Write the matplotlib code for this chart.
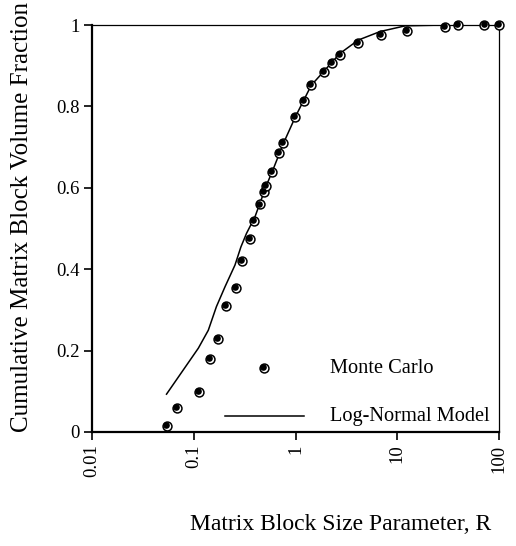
import matplotlib
matplotlib.use("Agg")
import matplotlib.pyplot as plt
import matplotlib.transforms as mtransforms

plt.rcParams['font.family'] = ['Liberation Serif', 'DejaVu Serif']

# Monte Carlo data
mc_r = [0.054, 0.068, 0.113, 0.144, 0.172, 0.207, 0.26, 0.298, 0.357, 0.388, 0.451,
        0.494, 0.518, 0.59, 0.684, 0.748, 0.995, 1.205, 1.43, 1.92, 2.28, 2.74,
        4.14, 6.92, 12.6, 29.5, 39.8, 72.0, 100.0]
mc_frac = [0.015, 0.058, 0.099, 0.179, 0.229, 0.31, 0.354, 0.419, 0.474, 0.519, 0.559,
           0.589, 0.605, 0.64, 0.686, 0.711, 0.775, 0.814, 0.852, 0.885, 0.906, 0.926,
           0.957, 0.975, 0.985, 0.996, 1.0, 1.0, 1.0]

# Log-normal model curve
ln_r = [0.054, 0.111, 0.139, 0.167, 0.203, 0.254, 0.291, 0.33, 0.40, 0.52, 0.60, 0.76,
        1.0, 1.43, 2.73, 4.14, 6.8, 12.0, 29.5, 100.0]
ln_frac = [0.093, 0.206, 0.25, 0.308, 0.357, 0.41, 0.455, 0.488, 0.529, 0.607, 0.644,
           0.709, 0.775, 0.852, 0.93, 0.963, 0.984, 0.998, 1.0, 1.0]

x_ticks = [0.01, 0.1, 1, 10, 100]
x_ticklabels = ['0.01', '0.1', '1', '10', '100']
y_ticks = [0, 0.2, 0.4, 0.6, 0.8, 1.0]
y_ticklabels = ['0', '0.2', '0.4', '0.6', '0.8', '1']

W, H = 516, 546
fig = plt.figure(figsize=(W / 100, H / 100), dpi=100)
ax = fig.add_axes([92 / W, 1 - 432 / H, (499 - 92) / W, (432 - 25) / H])

ax.set_xscale('log')
ax.set_xlim(0.01, 100)
ax.set_ylim(0, 1)

ax.plot(ln_r, ln_frac, color='black', lw=1.1, zorder=2)

off = mtransforms.offset_copy(ax.transData, fig=fig, x=-0.7, y=0.7, units='points')
ax.plot(mc_r, mc_frac, linestyle='none', marker='o', markersize=6.4,
        markerfacecolor='white', markeredgecolor='black', markeredgewidth=1.1,
        zorder=3, clip_on=False)
ax.plot(mc_r, mc_frac, linestyle='none', marker='o', markersize=4.8,
        markerfacecolor='black', markeredgecolor='black', markeredgewidth=0,
        zorder=4, clip_on=False, transform=off)

# legend (manual)
lx, ly = 0.4226, 0.157
offa = mtransforms.offset_copy(ax.transAxes, fig=fig, x=-0.7, y=0.7, units='points')
ax.plot([lx], [ly], transform=ax.transAxes, linestyle='none', marker='o', markersize=6.4,
        markerfacecolor='white', markeredgecolor='black', markeredgewidth=1.1, zorder=5)
ax.plot([lx], [ly], transform=offa, linestyle='none', marker='o', markersize=4.8,
        markerfacecolor='black', markeredgewidth=0, zorder=6)
ax.text(0.585, ly, 'Monte Carlo', transform=ax.transAxes, fontsize=14.7,
        va='center', ha='left')
ax.plot([0.328, 0.521], [0.039, 0.039], transform=ax.transAxes, color='black', lw=1.1)
ax.text(0.585, 0.039, 'Log-Normal Model', transform=ax.transAxes, fontsize=14.7,
        va='center', ha='left')

ax.set_xticks(x_ticks)
ax.set_xticklabels(x_ticklabels, rotation=90, fontsize=13.5)
ax.xaxis.set_minor_locator(matplotlib.ticker.NullLocator())
ax.set_yticks(y_ticks)
ax.set_yticklabels(y_ticklabels, fontsize=13.5)
ax.tick_params(axis='both', direction='out', length=6, width=1.2, color='black', pad=3)

for side in ['left', 'bottom']:
    ax.spines[side].set_linewidth(1.6)
for side in ['top', 'right']:
    ax.spines[side].set_linewidth(0.9)

fig.text(22 / W, 1 - 217 / H, 'Cumulative Matrix Block Volume Fraction', fontsize=18,
         rotation=90, ha='center', va='center')
fig.text(341 / W, 1 - 524 / H, 'Matrix Block Size Parameter, R', fontsize=17,
         ha='center', va='center')

fig.savefig('out.png', dpi=100)
